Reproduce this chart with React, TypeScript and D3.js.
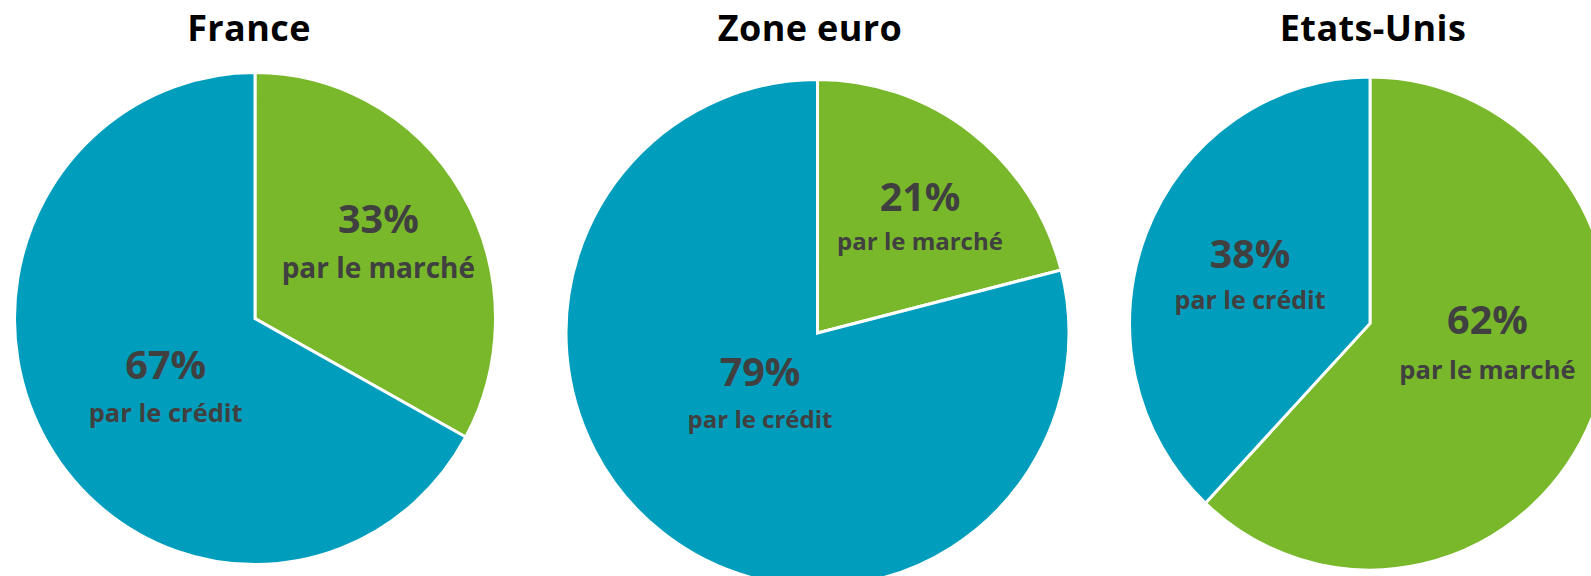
import React from "react";
import * as d3 from "d3";

// ---- Data ----
const countries = ["France", "Zone euro", "Etats-Unis"];
const sliceNames = ["par le marché", "par le crédit"];
const marcheShare = [33, 21, 62];
const creditShare = [67, 79, 38];

// ---- Layout / style (kept apart from data) ----
const W = 1591;
const H = 576;
const COLORS = ["#78B82A", "#009EBC"];
const TEXT = "#404040";
const FONT = "'Open Sans', Lato, sans-serif";

const pieLayout = [
  { cx: 255, cy: 318.5, rx: 239, ry: 244.5, titleX: 249 },
  { cx: 817.5, cy: 333, rx: 250, ry: 252, titleX: 810 },
  { cx: 1370, cy: 323.5, rx: 239, ry: 245, titleX: 1373 },
];
// per slice label: radial fraction, angle nudge (deg), sub-label font size, block height
const labelLayout = [
  [
    { f: 0.61, da: -1.6, sub: 28, h: 74 },
    { f: 0.46, da: -5.1, sub: 25.5, h: 72 },
  ],
  [
    { f: 0.625, da: 3.2, sub: 24, h: 68 },
    { f: 0.324, da: 7.4, sub: 24, h: 71 },
  ],
  [
    { f: 0.496, da: -13.8, sub: 25.5, h: 74 },
    { f: 0.544, da: 1.1, sub: 25, h: 70 },
  ],
];
const PCT_SIZE = 39.5;
const TITLE_SIZE = 36;

function Pie({ i }: { i: number }) {
  const L = pieLayout[i];
  const values = [marcheShare[i], creditShare[i]];
  const pie = d3
    .pie<number>()
    .sort(null)
    .value((d) => d)
    .startAngle(0)
    .endAngle(2 * Math.PI);
  const arcs = pie(values);
  const arc = d3.arc<d3.PieArcDatum<number>>().innerRadius(0).outerRadius(L.ry + 1.5);
  const sx = L.rx / L.ry;
  return (
    <g>
      <text
        x={L.titleX}
        y={41}
        textAnchor="middle"
        fontFamily={FONT}
        fontWeight={700}
        fontSize={TITLE_SIZE}
        letterSpacing={0.4}
        fill="#000"
      >
        {countries[i]}
      </text>
      <g transform={`translate(${L.cx},${L.cy}) scale(${sx},1)`}>
        {arcs.map((a, k) => (
          <path key={k} d={arc(a) || ""} fill={COLORS[k]} stroke="#fff" strokeWidth={3} strokeLinejoin="miter" />
        ))}
      </g>
      {arcs.map((a, k) => {
        const lab = labelLayout[i][k];
        const mid = (a.startAngle + a.endAngle) / 2 + (lab.da * Math.PI) / 180;
        const r = lab.f * L.ry;
        const x = L.cx + sx * r * Math.sin(mid);
        const y = L.cy - r * Math.cos(mid) + 2;
        const top = y - lab.h / 2;
        return (
          <g key={"l" + k} fontFamily={FONT} fontWeight={700} fill={TEXT} textAnchor="middle">
            <text x={x} y={top + PCT_SIZE * 0.73} fontSize={PCT_SIZE}>
              {values[k]}%
            </text>
            <text x={x} y={y + lab.h / 2} fontSize={lab.sub}>
              {sliceNames[k]}
            </text>
          </g>
        );
      })}
    </g>
  );
}

export default function App() {
  return (
    <svg
      width={W}
      height={H}
      style={{ position: "absolute", left: 0, top: 0, background: "#fff" }}
    >
      <rect width={W} height={H} fill="#fff" />
      {countries.map((_, i) => (
        <Pie key={i} i={i} />
      ))}
    </svg>
  );
}
